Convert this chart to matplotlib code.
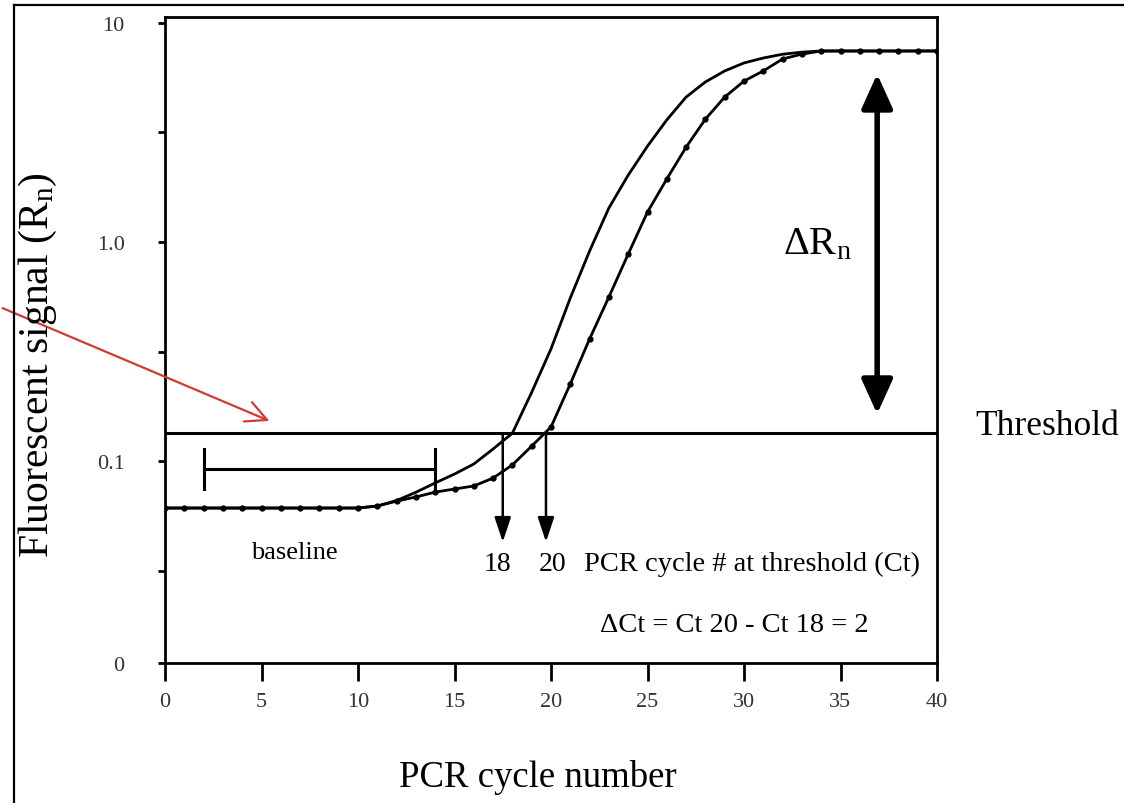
import numpy as np
import matplotlib
matplotlib.use("Agg")
import matplotlib.pyplot as plt
from matplotlib.patches import FancyArrowPatch
from matplotlib.lines import Line2D

plt.rcParams['font.family'] = ['Liberation Serif', 'DejaVu Serif']
plt.rcParams['mathtext.fontset'] = 'custom'
plt.rcParams['mathtext.rm'] = 'Liberation Serif'
plt.rcParams['mathtext.it'] = 'Liberation Serif:italic'

# ---- data ----
cycles = list(range(0, 41))
# solid curve (Ct = 18)
sample_a = [0.061]*11 + [0.0623, 0.066, 0.072, 0.0794, 0.0872, 0.0969, 0.1135,
                         0.134, 0.206, 0.325, 0.555, 0.91, 1.43, 2.02, 2.74,
                         3.61, 4.59, 5.38, 6.04, 6.57, 6.92, 7.2, 7.36] + [7.45]*7
# dotted curve (Ct = 20)
sample_b = [0.061]*11 + [0.0623, 0.0656, 0.0685, 0.0721, 0.0745, 0.0769, 0.0836,
                         0.096, 0.117, 0.143, 0.225, 0.361, 0.561, 0.881, 1.37,
                         1.94, 2.71, 3.64, 4.59, 5.43, 6.04, 6.85, 7.21] + [7.45]*7
threshold = 0.134
ct_values = [17.5, 19.74]
ct_labels = ["18", "20"]
baseline_range = [2.0, 14.0]
xticks = [0, 5, 10, 15, 20, 25, 30, 35, 40]
y_min, y_max = 0.01196, 10.65
yticks = [10, 10**0.5, 1.0, 10**-0.5, 0.1, 10**-1.5, y_min]
yticklabels = ["10", "", "1.0", "", "0.1", "", "0"]

W, H = 1124, 804
fig = plt.figure(figsize=(W/100, H/100), dpi=100)
ax = fig.add_axes([165/W, 1-664/H, (937-165)/W, (664-18)/H])
ax.set_yscale('log')
ax.set_xlim(0, 40)
ax.set_ylim(y_min, y_max)

for s in ax.spines.values():
    s.set_linewidth(2.0)

ax.set_xticks(xticks)
ax.set_xticklabels([str(t) for t in xticks], fontsize=16, color='#333333')
ax.set_yticks(yticks)
ax.set_yticklabels(yticklabels, fontsize=16, color='#333333')
ax.yaxis.set_minor_locator(matplotlib.ticker.NullLocator())
ax.tick_params(axis='x', direction='out', length=13, width=2, pad=8)
ax.tick_params(axis='y', direction='out', length=5, width=2, pad=24)

# curves
ax.plot(cycles, sample_a, color='black', lw=2.0)
ax.plot(cycles, sample_b, color='black', lw=2.0, marker='o', ms=3.5)

# threshold
ax.axhline(threshold, color='black', lw=2.2)

# baseline bracket
yb = 0.092
ax.plot(baseline_range, [yb, yb], color='black', lw=2.2)
for xb in baseline_range:
    ax.plot([xb, xb], [0.0745, 0.113], color='black', lw=2.2)
ax.text(6.7, 0.0384, "baseline", fontsize=19, ha='center', va='center')

# Ct arrows
for xc, lab in zip(ct_values, ct_labels):
    ax.annotate("", xy=(xc, 0.0427), xytext=(xc, threshold),
                arrowprops=dict(arrowstyle='-|>,head_length=1.5,head_width=0.5',
                                color='black', lw=1.8, shrinkA=0, shrinkB=0))
ax.text(17.2, 0.0339, ct_labels[0], fontsize=20, ha='center', va='center')
ax.text(20.1, 0.0339, ct_labels[1], fontsize=20, ha='center', va='center')
ax.text(21.7, 0.0339, "PCR cycle # at threshold (Ct)", fontsize=20.5,
        ha='left', va='center')
ax.text(29.5, 0.018, "\u0394Ct = Ct 20 - Ct 18 = 2", fontsize=20.5,
        ha='center', va='center')

# delta Rn double arrow
ax.annotate("", xy=(36.9, 5.85), xytext=(36.9, 0.164),
            arrowprops=dict(arrowstyle='<|-|>,head_length=2.1,head_width=0.95',
                            color='black', lw=4, shrinkA=0, shrinkB=0))
ax.text(33.8, 0.98, r"$\mathrm{\Delta R_n}$", fontsize=29, ha='center', va='center')

# figure-level texts
fig.text(975/W, 1-427/H, "Threshold", fontsize=25.5, ha='left', va='center')
fig.text(538/W, 1-778/H, "PCR cycle number", fontsize=26.5, ha='center', va='center')
fig.text(38/W, 1-365/H, r"Fluorescent signal (R$_\mathrm{n}$)", fontsize=30,
         rotation=90, ha='center', va='center')

# outer frame
fig.add_artist(Line2D([14/W, 14/W], [0, 1-6/H], color='black', lw=1.6,
                      transform=fig.transFigure))
fig.add_artist(Line2D([14/W, 1], [1-6/H, 1-6/H], color='black', lw=1.6,
                      transform=fig.transFigure))

# red arrow
fig.add_artist(FancyArrowPatch((0, 1-308/H), (272/W, 1-423/H),
                               transform=fig.transFigure,
                               arrowstyle='->,head_length=10,head_width=5',
                               mutation_scale=1.5, color='#d23a32', lw=1.6))

fig.savefig("out.png", dpi=100)
